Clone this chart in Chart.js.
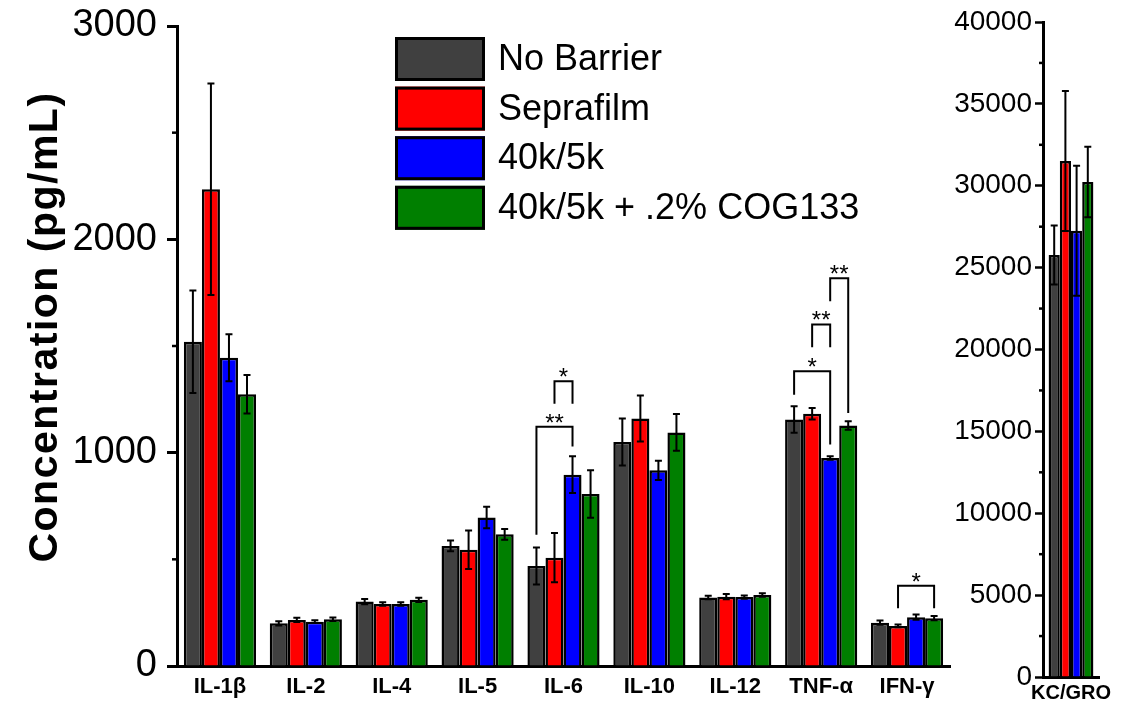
<!DOCTYPE html>
<html><head><meta charset="utf-8">
<script src="https://cdn.jsdelivr.net/npm/chart.js@4.4.0/dist/chart.umd.min.js"></script>
<style>
html,body{margin:0;padding:0;background:#fff;width:1122px;height:702px;overflow:hidden;}
#c1{position:absolute;left:0;top:0;}
#c2{position:absolute;left:940px;top:0;}
</style></head><body>
<canvas id="c1" width="960" height="702"></canvas>
<canvas id="c2" width="182" height="702"></canvas>
<script>
// ---------- data ----------
const categories = ['IL-1β','IL-2','IL-4','IL-5','IL-6','IL-10','IL-12','TNF-α','IFN-γ'];
const seriesNames = ['No Barrier','Seprafilm','40k/5k','40k/5k + .2% COG133'];
const seriesColors = ['#404040','#ff0000','#0000ff','#007f00'];

const noBarrier    = [1520, 200, 302, 563, 469, 1050, 321, 1155, 203];
const seprafilm    = [2235, 216, 291, 545, 508, 1160, 325, 1182, 188];
const k40k5        = [1445, 208, 291, 696, 897,  917, 323,  975, 229];
const k40k5cog     = [1274, 219, 310, 617, 806, 1095, 333, 1127, 224];

const noBarrierErr = [240, 10, 12, 25,  87, 110,  8, 62, 10];
const seprafilmErr = [496, 10,  8, 90, 115, 108, 12, 27,  6];
const k40k5Err     = [110,  6,  8, 50,  86,  45,  8,  8, 12];
const k40k5cogErr  = [ 90,  8, 10, 25, 111,  86,  8, 20, 10];

const kcCategory = ['KC/GRO'];
const kcValues = [25771, 31511, 27255, 30229];
const kcErrors = [1800, 4270, 3970, 2150];

const yTicksMain = [0, 1000, 2000, 3000];
const yTicksKC = [0, 5000, 10000, 15000, 20000, 25000, 30000, 35000, 40000];

// significance brackets: category, from series, to series, top, left leg end, right leg end, label
const bracketCat   = [4, 4, 7, 7, 7, 8];
const bracketFrom  = [0, 1, 0, 1, 2, 1];
const bracketTo    = [2, 2, 2, 2, 3, 3];
const bracketTop   = [1121, 1335, 1382, 1601, 1817, 376];
const bracketLeft  = [615, 1229, 1272, 1494, 1710, 271];
const bracketRight = [1029, 1229, 1038, 1494, 1186, 271];
const bracketLabel = ['**', '*', '*', '**', '**', '*'];

// ---------- helpers ----------
const FONT = '"Liberation Sans", Arial, Helvetica, sans-serif';
Chart.defaults.font.family = FONT;
Chart.defaults.color = '#000';

function errorBars(getErr) {
  return { id: 'errbars', afterDatasetsDraw(chart) {
    const ctx = chart.ctx, ys = chart.scales.y;
    ctx.save(); ctx.strokeStyle = '#000'; ctx.lineWidth = 2;
    chart.data.datasets.forEach((ds, di) => {
      chart.getDatasetMeta(di).data.forEach((bar, i) => {
        const v = ds.data[i], e = getErr(di, i);
        const x = bar.x, yt = ys.getPixelForValue(v + e), yb = ys.getPixelForValue(v - e);
        ctx.beginPath();
        ctx.moveTo(x, yt); ctx.lineTo(x, yb);
        ctx.moveTo(x - 3.5, yt); ctx.lineTo(x + 3.5, yt);
        ctx.moveTo(x - 3.5, yb); ctx.lineTo(x + 3.5, yb);
        ctx.stroke();
      });
    });
    ctx.restore();
  }};
}
function minorTicks(step, max, len) {
  return { id: 'minor', afterDraw(chart) {
    const ctx = chart.ctx, ys = chart.scales.y, x0 = chart.chartArea.left;
    ctx.save(); ctx.strokeStyle = '#000'; ctx.lineWidth = 2.5;
    for (let v = step / 2; v < max; v += step) {
      const y = ys.getPixelForValue(v);
      ctx.beginPath(); ctx.moveTo(x0 - len, y); ctx.lineTo(x0, y); ctx.stroke();
    }
    ctx.restore();
  }};
}

const bracketsPlugin = { id: 'brackets', afterDatasetsDraw(chart) {
  const ctx = chart.ctx, ys = chart.scales.y;
  ctx.save(); ctx.strokeStyle = '#000'; ctx.lineWidth = 2; ctx.fillStyle = '#000';
  ctx.font = '24px ' + FONT; ctx.textAlign = 'center'; ctx.textBaseline = 'alphabetic';
  for (let k = 0; k < bracketCat.length; k++) {
    const xa = chart.getDatasetMeta(bracketFrom[k]).data[bracketCat[k]].x;
    const xb = chart.getDatasetMeta(bracketTo[k]).data[bracketCat[k]].x;
    const yt = ys.getPixelForValue(bracketTop[k]);
    ctx.beginPath();
    ctx.moveTo(xa, ys.getPixelForValue(bracketLeft[k]));
    ctx.lineTo(xa, yt); ctx.lineTo(xb, yt);
    ctx.lineTo(xb, ys.getPixelForValue(bracketRight[k]));
    ctx.stroke();
    ctx.fillText(bracketLabel[k], (xa + xb) / 2, yt + 4);
  }
  ctx.restore();
}};

const legendPlugin = { id: 'customLegend', afterDraw(chart) {
  const ctx = chart.ctx;
  ctx.save();
  chart.data.datasets.forEach((ds, i) => {
    const y = 37 + i * 49.6;
    ctx.fillStyle = ds.backgroundColor;
    ctx.fillRect(395, y, 90, 44);
    ctx.strokeStyle = '#000'; ctx.lineWidth = 3;
    ctx.strokeRect(396.5, y + 1.5, 87, 41);
    ctx.fillStyle = '#000'; ctx.font = '36px ' + FONT;
    ctx.textAlign = 'left'; ctx.textBaseline = 'middle';
    ctx.fillText(ds.label, 498, y + 23);
  });
  ctx.restore();
}};

const yTitlePlugin = { id: 'ytitle', afterDraw(chart) {
  const ctx = chart.ctx;
  ctx.save();
  ctx.translate(46, 327); ctx.rotate(-Math.PI / 2);
  ctx.font = 'bold 41px ' + FONT;
  if ('letterSpacing' in ctx) ctx.letterSpacing = '1.5px';
  ctx.textAlign = 'center'; ctx.textBaseline = 'middle'; ctx.fillStyle = '#000';
  ctx.fillText('Concentration (pg/mL)', 0, 0);
  ctx.restore();
}};

const plainNum = v => String(v);

// ---------- main chart ----------
const mainValues = [noBarrier, seprafilm, k40k5, k40k5cog];
const mainErrors = [noBarrierErr, seprafilmErr, k40k5Err, k40k5cogErr];

new Chart(document.getElementById('c1'), {
  type: 'bar',
  data: {
    labels: categories,
    datasets: seriesNames.map((n, i) => ({
      label: n, data: mainValues[i], backgroundColor: seriesColors[i],
      borderColor: '#000', borderWidth: 2.5
    }))
  },
  options: {
    responsive: false, animation: false, devicePixelRatio: 1,
    layout: { padding: { top: 26, right: 10, left: 0, bottom: 0 } },
    plugins: { legend: { display: false }, tooltip: { enabled: false } },
    datasets: { bar: { categoryPercentage: 0.84, barPercentage: 1 } },
    scales: {
      x: {
        grid: { display: false, drawTicks: false },
        border: { display: true, color: '#000', width: 3 },
        ticks: { color: '#000', font: { size: 22, weight: 'bold' }, padding: 8, maxRotation: 0, autoSkip: false },
        afterFit(s) { s.height = 36; }
      },
      y: {
        min: 0, max: 3000,
        afterBuildTicks(s) { s.ticks = yTicksMain.map(v => ({ value: v })); },
        grid: { display: true, drawOnChartArea: false, drawTicks: true, tickLength: 10, tickWidth: 3, color: '#000', tickColor: '#000' },
        border: { display: true, color: '#000', width: 3 },
        ticks: { color: '#000', font: { size: 38, lineHeight: 0.8 }, padding: 10, callback: plainNum },
        afterFit(s) { s.width = 177; }
      }
    }
  },
  plugins: [errorBars((d, i) => mainErrors[d][i]), minorTicks(1000, 3000, 5), bracketsPlugin, legendPlugin, yTitlePlugin]
});

// ---------- KC/GRO chart ----------
new Chart(document.getElementById('c2'), {
  type: 'bar',
  data: {
    labels: kcCategory,
    datasets: seriesNames.map((n, i) => ({
      label: n, data: [kcValues[i]], backgroundColor: seriesColors[i],
      borderColor: '#000', borderWidth: 2.5
    }))
  },
  options: {
    responsive: false, animation: false, devicePixelRatio: 1,
    layout: { padding: { top: 22, right: 14, left: 0, bottom: 0 } },
    plugins: { legend: { display: false }, tooltip: { enabled: false } },
    datasets: { bar: { categoryPercentage: 0.8, barPercentage: 1 } },
    scales: {
      x: {
        grid: { display: false, drawTicks: false },
        border: { display: true, color: '#000', width: 3 },
        ticks: { color: '#000', font: { size: 20, weight: 'bold' }, padding: 4, maxRotation: 0 },
        afterFit(s) { s.height = 25; }
      },
      y: {
        min: 0, max: 40000,
        afterBuildTicks(s) { s.ticks = yTicksKC.map(v => ({ value: v })); },
        grid: { display: true, drawOnChartArea: false, drawTicks: true, tickLength: 8, tickWidth: 2.5, color: '#000', tickColor: '#000' },
        border: { display: true, color: '#000', width: 3 },
        ticks: { color: '#000', font: { size: 28 }, padding: 3, callback: plainNum },
        afterFit(s) { s.width = 103; }
      }
    }
  },
  plugins: [errorBars((d, i) => kcErrors[d]), minorTicks(5000, 40000, 4)]
});
</script>
</body></html>
